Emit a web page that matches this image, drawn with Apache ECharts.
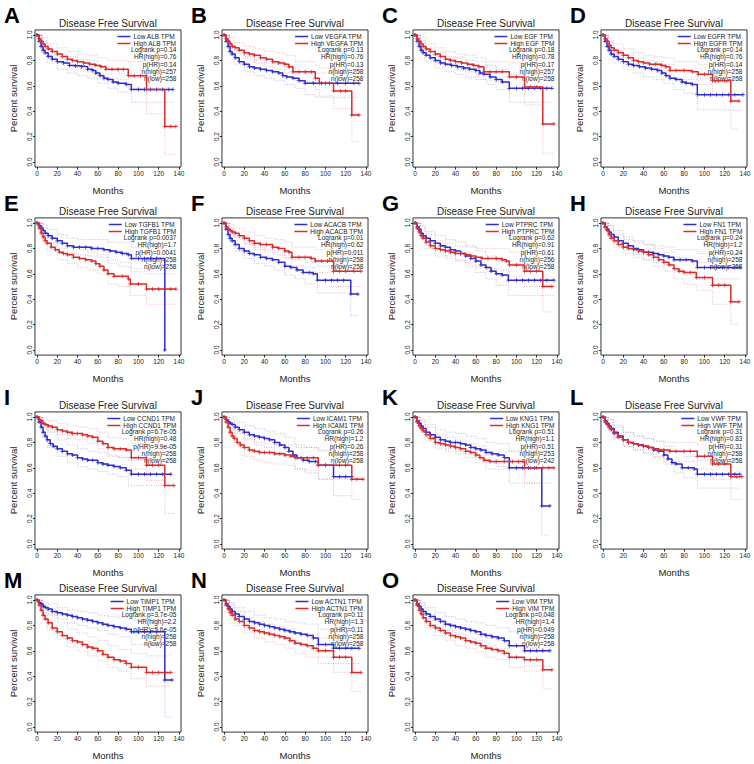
<!DOCTYPE html>
<html>
<head>
<meta charset="utf-8">
<script src="https://cdn.jsdelivr.net/npm/echarts@6/dist/echarts.min.js"></script>
<style>
  html, body { margin: 0; padding: 0; background: #fff; }
  #chart { width: 754px; height: 764px; }
</style>
</head>
<body>
<div id="chart"></div>
<script>
// panel letters, genes and the stats printed in each legend
const letters = ['A', 'B', 'C', 'D', 'E', 'F', 'G', 'H', 'I', 'J', 'K', 'L', 'M', 'N', 'O']
const genes = ['ALB', 'VEGFA', 'EGF', 'EGFR', 'TGFB1', 'ACACB', 'PTPRC', 'FN1', 'CCND1', 'ICAM1', 'KNG1', 'VWF', 'TIMP1', 'ACTN1', 'VIM']
const logrankP = ['0.14', '0.13', '0.18', '0.14', '0.0037', '0.01', '0.62', '0.24', '6.7e-05', '0.26', '0.51', '0.31', '3.7e-05', '0.11', '0.048']
const hrHigh = ['0.76', '0.76', '0.78', '0.76', '1.7', '0.62', '0.91', '1.2', '0.48', '1.2', '1.1', '0.83', '2.2', '1.3', '1.4']
const pHR = ['0.14', '0.13', '0.17', '0.14', '0.0041', '0.011', '0.61', '0.24', '9.9e-05', '0.26', '0.51', '0.31', '5.6e-05', '0.11', '0.049']
const nHigh = ['257', '258', '257', '258', '258', '258', '256', '258', '258', '258', '253', '258', '258', '258', '258']
const nLow = ['258', '258', '258', '258', '258', '258', '258', '258', '258', '258', '242', '258', '258', '258', '258']

const monthTicks = [0, 20, 40, 60, 80, 100, 120, 140]
const survTicks = [0, 0.2, 0.4, 0.6, 0.8, 1.0]

// KM curves: month, survival pairs (flat)
const lowA = [0,1, 2,.95, 4,.91, 6,.88, 8,.86, 11,.83, 15,.81, 20,.79, 26,.78, 32,.76, 38,.755, 44,.75, 50,.73, 55,.72, 58,.70, 62,.68, 66,.66, 70,.65, 75,.63, 80,.62, 88,.61, 93,.57, 100,.57, 106,.57, 112,.57, 118,.57, 124,.57, 130,.57, 134,.57]
const highA = [0,1, 2,.97, 4,.95, 6,.93, 8,.91, 11,.89, 15,.87, 20,.85, 25,.83, 30,.81, 35,.80, 40,.79, 46,.78, 52,.77, 58,.76, 63,.75, 68,.73, 74,.73, 80,.73, 85,.73, 90,.68, 96,.68, 102,.68, 108,.57, 126,.28, 132,.28, 137,.28]
const lowB = [0,1, 2,.95, 4,.91, 6,.87, 8,.85, 11,.82, 15,.79, 20,.77, 25,.75, 30,.74, 36,.73, 42,.72, 48,.71, 54,.70, 58,.68, 62,.67, 68,.66, 74,.64, 80,.62, 88,.62, 96,.62, 104,.62, 112,.62, 120,.62, 128,.62, 133,.62]
const highB = [0,1, 2,.97, 4,.95, 6,.93, 8,.91, 11,.90, 15,.88, 20,.86, 25,.85, 30,.84, 36,.82, 42,.81, 48,.79, 54,.78, 60,.77, 64,.75, 68,.71, 74,.71, 80,.71, 86,.71, 90,.66, 94,.62, 100,.62, 108,.56, 115,.56, 120,.56, 126,.37, 133,.37]
const lowC = [0,1, 2,.95, 4,.91, 6,.88, 8,.86, 11,.84, 15,.82, 20,.80, 25,.78, 30,.77, 36,.76, 42,.75, 48,.74, 54,.73, 60,.72, 64,.70, 68,.69, 74,.67, 80,.65, 86,.63, 93,.58, 100,.58, 106,.58, 112,.58, 118,.58, 124,.58, 130,.58, 135,.58]
const highC = [0,1, 2,.97, 4,.95, 6,.93, 8,.91, 11,.89, 15,.87, 20,.85, 25,.83, 30,.81, 35,.80, 40,.79, 46,.78, 52,.77, 58,.76, 63,.75, 68,.71, 74,.71, 80,.71, 86,.71, 93,.67, 100,.67, 108,.59, 114,.59, 120,.59, 126,.30, 137,.30]
const lowD = [0,1, 2,.95, 4,.91, 6,.88, 8,.85, 11,.83, 15,.81, 20,.79, 25,.77, 30,.76, 36,.75, 42,.74, 48,.73, 54,.72, 58,.70, 62,.68, 66,.66, 72,.65, 78,.63, 82,.62, 88,.61, 93,.53, 100,.53, 106,.53, 112,.53, 118,.53, 124,.53, 130,.53, 138,.53]
const highD = [0,1, 2,.97, 4,.95, 6,.92, 8,.90, 11,.88, 15,.86, 20,.84, 25,.82, 30,.80, 35,.79, 40,.78, 46,.77, 52,.77, 58,.76, 62,.75, 66,.72, 72,.72, 80,.72, 88,.71, 94,.69, 100,.69, 108,.64, 114,.64, 120,.64, 126,.48, 134,.48]
const lowE = [0,1, 2,.98, 4,.96, 6,.94, 8,.92, 11,.90, 15,.88, 20,.86, 25,.84, 30,.82, 36,.81, 42,.81, 48,.81, 54,.80, 60,.80, 66,.79, 72,.78, 78,.77, 84,.76, 90,.75, 93,.72, 100,.72, 106,.72, 112,.72, 118,.72, 126,0]
const highE = [0,1, 2,.96, 4,.92, 6,.89, 8,.86, 10,.84, 14,.81, 18,.79, 22,.77, 26,.76, 30,.75, 36,.73, 42,.72, 48,.71, 54,.70, 58,.68, 62,.66, 66,.63, 70,.60, 76,.58, 84,.58, 90,.56, 92,.52, 100,.52, 108,.48, 114,.48, 120,.48, 126,.48, 132,.48, 137,.48]
const lowF = [0,1, 2,.95, 4,.91, 6,.88, 8,.86, 11,.83, 15,.80, 20,.78, 25,.76, 30,.75, 36,.73, 42,.72, 48,.71, 54,.69, 60,.66, 66,.65, 72,.63, 78,.61, 84,.61, 88,.60, 92,.55, 100,.55, 106,.55, 112,.55, 118,.55, 125,.44, 132,.44]
const highF = [0,1, 2,.97, 4,.95, 6,.94, 8,.93, 11,.92, 15,.90, 20,.88, 25,.86, 30,.84, 36,.83, 42,.83, 48,.81, 54,.80, 60,.78, 64,.77, 67,.73, 74,.73, 80,.73, 86,.72, 90,.70, 96,.70, 102,.70, 108,.62, 114,.62, 120,.62, 128,.62, 135,.62]
const lowG = [0,1, 2,.97, 4,.95, 6,.92, 8,.90, 11,.88, 15,.86, 20,.84, 25,.82, 30,.81, 35,.79, 40,.78, 45,.76, 50,.74, 55,.72, 60,.70, 65,.67, 70,.65, 75,.62, 80,.60, 86,.59, 92,.55, 100,.55, 106,.55, 112,.55, 118,.55, 124,.55, 130,.55, 137,.55]
const highG = [0,1, 2,.96, 4,.93, 6,.90, 8,.88, 11,.85, 15,.82, 20,.80, 25,.79, 30,.78, 35,.77, 40,.76, 45,.76, 50,.75, 55,.74, 60,.73, 66,.72, 72,.72, 80,.72, 86,.71, 90,.70, 93,.67, 100,.67, 108,.62, 114,.62, 120,.62, 126,.50, 135,.50]
const lowH = [0,1, 2,.97, 4,.95, 6,.93, 8,.91, 11,.89, 15,.86, 20,.84, 25,.82, 30,.80, 35,.79, 40,.77, 45,.77, 50,.76, 55,.75, 60,.74, 65,.73, 70,.71, 76,.71, 82,.71, 88,.70, 93,.65, 100,.65, 106,.65, 112,.65, 118,.65, 124,.65, 130,.65, 135,.65]
const highH = [0,1, 2,.97, 4,.94, 6,.91, 8,.88, 11,.86, 15,.83, 20,.81, 25,.80, 30,.79, 35,.78, 40,.77, 45,.75, 50,.73, 55,.71, 60,.69, 65,.67, 70,.64, 75,.62, 80,.61, 86,.61, 92,.57, 100,.57, 108,.51, 114,.51, 120,.51, 126,.38, 134,.38]
const lowI = [0,1, 2,.96, 4,.92, 6,.88, 8,.85, 10,.82, 13,.79, 16,.77, 20,.75, 25,.73, 30,.71, 35,.70, 40,.68, 45,.67, 50,.66, 55,.66, 60,.64, 65,.63, 70,.62, 76,.61, 82,.60, 88,.58, 93,.55, 100,.55, 106,.55, 112,.55, 118,.55, 124,.55, 132,.55]
const highI = [0,1, 2,.98, 4,.97, 6,.95, 8,.94, 11,.93, 15,.92, 20,.90, 25,.89, 30,.88, 35,.87, 40,.87, 45,.86, 50,.85, 55,.84, 60,.81, 65,.79, 70,.76, 76,.75, 82,.75, 88,.74, 93,.68, 100,.68, 108,.62, 114,.62, 120,.62, 126,.46, 135,.46]
const lowJ = [0,1, 2,.98, 4,.96, 6,.95, 8,.94, 11,.92, 15,.90, 20,.88, 25,.86, 30,.85, 35,.84, 40,.83, 45,.82, 50,.80, 55,.78, 60,.76, 64,.73, 68,.70, 72,.68, 78,.66, 84,.65, 90,.65, 93,.62, 100,.62, 108,.53, 114,.53, 120,.53, 126,.53]
const highJ = [0,1, 2,.96, 4,.92, 6,.88, 8,.85, 10,.83, 13,.80, 16,.78, 20,.76, 25,.74, 30,.73, 35,.72, 40,.72, 45,.72, 50,.71, 55,.71, 60,.70, 66,.69, 70,.68, 76,.68, 82,.68, 88,.68, 93,.62, 100,.62, 108,.62, 114,.62, 120,.62, 126,.51, 131,.51, 137,.51]
const lowK = [0,1, 2,.97, 4,.95, 6,.93, 8,.91, 11,.88, 15,.86, 20,.84, 25,.82, 30,.81, 35,.80, 40,.80, 45,.79, 50,.78, 55,.76, 60,.75, 65,.74, 70,.72, 76,.71, 82,.70, 88,.68, 93,.60, 100,.60, 106,.60, 112,.60, 118,.60, 125,.30, 133,.30]
const highK = [0,1, 2,.96, 4,.93, 6,.91, 8,.89, 11,.86, 15,.83, 20,.80, 25,.79, 30,.78, 35,.77, 40,.76, 45,.75, 50,.73, 55,.72, 60,.70, 64,.68, 68,.66, 74,.65, 80,.65, 88,.65, 96,.65, 102,.65, 108,.60, 114,.60, 120,.60, 126,.60, 132,.60, 137,.60]
const lowL = [0,1, 2,.97, 4,.95, 6,.93, 8,.91, 11,.88, 15,.85, 20,.82, 25,.80, 30,.79, 35,.78, 40,.77, 45,.76, 50,.74, 55,.73, 60,.70, 64,.67, 68,.64, 72,.63, 78,.60, 84,.60, 90,.59, 93,.55, 100,.55, 106,.55, 112,.55, 118,.55, 124,.55, 130,.55, 135,.55]
const highL = [0,1, 2,.96, 4,.94, 6,.92, 8,.90, 11,.87, 15,.84, 20,.82, 25,.80, 30,.79, 35,.78, 40,.77, 45,.76, 50,.75, 55,.74, 60,.74, 66,.73, 72,.73, 80,.73, 86,.73, 93,.69, 100,.69, 108,.63, 114,.63, 120,.63, 126,.53, 132,.53, 137,.53]
const lowM = [0,1, 2,.98, 4,.97, 6,.95, 8,.94, 11,.93, 15,.91, 20,.90, 25,.89, 30,.88, 35,.87, 40,.86, 45,.85, 50,.84, 55,.83, 60,.82, 65,.81, 70,.80, 76,.79, 82,.78, 88,.77, 93,.75, 100,.75, 106,.75, 112,.75, 118,.75, 126,.37, 133,.37]
const highM = [0,1, 2,.96, 4,.92, 6,.88, 8,.85, 11,.82, 15,.78, 20,.75, 25,.72, 30,.70, 35,.68, 40,.67, 45,.65, 50,.63, 55,.62, 60,.60, 65,.57, 70,.55, 76,.53, 82,.52, 88,.50, 93,.47, 100,.47, 108,.43, 114,.43, 120,.43, 126,.43, 132,.43]
const lowN = [0,1, 2,.97, 4,.95, 6,.93, 8,.91, 11,.89, 15,.87, 20,.85, 25,.83, 30,.82, 35,.81, 40,.80, 45,.79, 50,.78, 55,.77, 60,.76, 65,.75, 70,.74, 76,.73, 82,.72, 88,.70, 93,.65, 100,.65, 108,.62, 114,.62, 120,.62, 126,.62, 133,.62]
const highN = [0,1, 2,.96, 4,.93, 6,.90, 8,.88, 11,.85, 15,.83, 20,.80, 25,.78, 30,.76, 35,.75, 40,.74, 45,.73, 50,.72, 55,.71, 60,.70, 65,.68, 70,.66, 76,.65, 82,.64, 88,.62, 93,.60, 100,.60, 108,.55, 114,.55, 120,.55, 126,.43, 135,.43]
const lowO = [0,1, 2,.97, 4,.95, 6,.93, 8,.91, 11,.89, 15,.87, 20,.85, 25,.83, 30,.81, 35,.80, 40,.79, 45,.78, 50,.77, 55,.76, 60,.75, 65,.73, 70,.72, 76,.71, 82,.70, 88,.68, 93,.64, 100,.64, 108,.60, 114,.60, 120,.60, 126,.60, 133,.60]
const highO = [0,1, 2,.96, 4,.92, 6,.89, 8,.86, 11,.83, 15,.80, 20,.78, 25,.76, 30,.74, 35,.72, 40,.71, 45,.70, 50,.68, 55,.67, 60,.66, 65,.64, 70,.62, 76,.61, 82,.60, 88,.58, 93,.55, 100,.55, 108,.53, 114,.53, 120,.53, 126,.45, 135,.45]

// 95% bands: month, lower, upper triplets (flat)
const ciLowA = [0,1,1, 5,.85,.95, 10,.78,.89, 20,.73,.85, 30,.70,.83, 40,.68,.81, 50,.66,.80, 60,.62,.76, 70,.58,.72, 80,.55,.70, 93,.47,.67, 134,.47,.67]
const ciHighA = [0,1,1, 5,.89,.98, 10,.84,.93, 20,.79,.90, 30,.76,.87, 40,.73,.85, 50,.71,.84, 60,.69,.82, 70,.66,.80, 80,.65,.80, 90,.58,.79, 108,.38,.78, 126,.06,.78, 137,.06,.78]
const ciLowB = [0,1,1, 5,.84,.94, 10,.77,.88, 20,.71,.83, 30,.68,.80, 40,.66,.78, 50,.64,.77, 60,.61,.74, 70,.58,.71, 80,.53,.70, 90,.51,.70, 133,.51,.70]
const ciHighB = [0,1,1, 5,.90,.98, 10,.85,.94, 20,.81,.91, 30,.78,.89, 40,.75,.87, 50,.73,.86, 60,.70,.84, 70,.64,.79, 80,.63,.79, 90,.57,.76, 94,.52,.74, 108,.42,.72, 126,.16,.72, 133,.16,.72]
const ciLowC = [0,1,1, 5,.86,.95, 10,.79,.89, 20,.74,.86, 30,.71,.83, 40,.69,.82, 50,.67,.80, 60,.65,.79, 70,.61,.76, 80,.57,.73, 93,.47,.69, 135,.47,.69]
const ciHighC = [0,1,1, 5,.90,.98, 10,.84,.93, 20,.79,.90, 30,.76,.87, 40,.73,.85, 50,.71,.84, 60,.69,.82, 70,.64,.79, 80,.63,.79, 93,.58,.78, 108,.45,.76, 126,.07,.76, 137,.07,.76]
const ciLowD = [0,1,1, 5,.85,.95, 10,.78,.88, 20,.73,.85, 30,.70,.82, 40,.67,.80, 50,.65,.79, 60,.62,.77, 70,.57,.73, 80,.54,.71, 93,.41,.66, 138,.41,.66]
const ciHighD = [0,1,1, 5,.90,.98, 10,.83,.93, 20,.79,.89, 30,.75,.86, 40,.73,.84, 50,.71,.83, 60,.69,.82, 70,.66,.79, 80,.65,.79, 94,.61,.77, 108,.53,.76, 126,.26,.76, 134,.26,.76]
const ciLowE = [0,1,1, 5,.90,.99, 10,.85,.95, 20,.80,.91, 30,.76,.88, 40,.75,.87, 50,.74,.87, 60,.73,.87, 70,.71,.85, 80,.69,.85, 93,.64,.81, 126,0,.81]
const ciHighE = [0,1,1, 5,.86,.97, 10,.78,.90, 20,.71,.84, 30,.68,.82, 40,.65,.79, 50,.63,.77, 60,.60,.75, 70,.52,.68, 80,.50,.66, 92,.43,.62, 108,.36,.60, 137,.36,.60]
const ciLowF = [0,1,1, 5,.85,.95, 10,.78,.89, 20,.72,.84, 30,.68,.81, 40,.66,.79, 50,.63,.77, 60,.59,.73, 70,.56,.71, 80,.52,.69, 92,.45,.66, 125,.27,.64, 132,.27,.64]
const ciHighF = [0,1,1, 5,.91,.99, 10,.88,.96, 20,.83,.93, 30,.79,.90, 40,.77,.88, 50,.75,.87, 60,.72,.85, 67,.66,.81, 80,.65,.81, 90,.61,.79, 108,.50,.77, 135,.50,.77]
const ciLowG = [0,1,1, 5,.89,.98, 10,.83,.93, 20,.78,.90, 30,.74,.87, 40,.71,.85, 50,.66,.82, 60,.61,.78, 70,.56,.74, 80,.51,.70, 92,.43,.68, 137,.43,.68]
const ciHighG = [0,1,1, 5,.88,.97, 10,.80,.91, 20,.74,.86, 30,.72,.84, 40,.70,.82, 50,.69,.81, 60,.66,.80, 70,.64,.80, 80,.63,.80, 93,.58,.77, 108,.50,.76, 126,.30,.74, 135,.30,.74]
const ciLowH = [0,1,1, 5,.90,.98, 10,.85,.94, 20,.79,.89, 30,.75,.86, 40,.71,.83, 50,.69,.82, 60,.67,.81, 70,.63,.79, 80,.62,.79, 93,.56,.76, 135,.56,.76]
const ciHighH = [0,1,1, 5,.89,.98, 10,.81,.91, 20,.76,.87, 30,.73,.85, 40,.71,.83, 50,.66,.80, 60,.62,.77, 70,.56,.73, 80,.52,.71, 92,.47,.69, 108,.36,.66, 126,.20,.64, 134,.20,.64]
const ciLowI = [0,1,1, 5,.84,.95, 10,.76,.88, 20,.69,.82, 30,.64,.78, 40,.61,.75, 50,.59,.73, 60,.57,.72, 70,.55,.70, 80,.53,.68, 90,.46,.66, 132,.46,.66]
const ciHighI = [0,1,1, 5,.93,.99, 10,.89,.97, 20,.86,.95, 30,.83,.93, 40,.82,.92, 50,.79,.91, 60,.75,.88, 70,.69,.84, 80,.68,.83, 93,.59,.79, 108,.50,.77, 126,.24,.76, 135,.24,.76]
const ciLowJ = [0,1,1, 5,.91,.99, 10,.87,.96, 20,.82,.93, 30,.78,.91, 40,.76,.89, 50,.72,.87, 60,.68,.84, 70,.59,.78, 80,.56,.76, 93,.51,.74, 108,.38,.70, 126,.38,.70]
const ciHighJ = [0,1,1, 5,.85,.96, 10,.77,.89, 20,.69,.83, 30,.66,.80, 40,.64,.79, 50,.63,.78, 60,.62,.78, 70,.59,.76, 80,.58,.76, 93,.51,.73, 126,.35,.73, 137,.35,.73]
const ciLowK = [0,1,1, 5,.89,.98, 10,.84,.94, 20,.78,.90, 30,.75,.88, 40,.73,.87, 50,.71,.85, 60,.68,.83, 70,.64,.80, 80,.61,.79, 93,.48,.73, 125,.07,.73, 133,.07,.73]
const ciHighK = [0,1,1, 5,.88,.97, 10,.81,.92, 20,.75,.86, 30,.73,.84, 40,.71,.82, 50,.68,.79, 60,.64,.77, 70,.59,.73, 80,.59,.73, 108,.48,.73, 137,.48,.73]
const ciLowL = [0,1,1, 5,.90,.98, 10,.84,.93, 20,.77,.88, 30,.74,.85, 40,.71,.83, 50,.68,.81, 60,.63,.77, 70,.56,.72, 80,.52,.69, 93,.44,.66, 135,.44,.66]
const ciHighL = [0,1,1, 5,.89,.98, 10,.83,.92, 20,.77,.88, 30,.74,.85, 40,.72,.83, 50,.69,.81, 60,.67,.80, 70,.65,.80, 80,.65,.80, 93,.59,.78, 108,.51,.76, 126,.35,.75, 137,.35,.75]
const ciLowM = [0,1,1, 5,.93,.99, 10,.89,.97, 20,.85,.94, 30,.82,.92, 40,.80,.91, 50,.78,.90, 60,.76,.88, 70,.73,.87, 80,.71,.86, 93,.65,.84, 126,.08,.82, 133,.08,.82]
const ciHighM = [0,1,1, 5,.85,.96, 10,.76,.88, 20,.69,.82, 30,.63,.77, 40,.60,.74, 50,.56,.71, 60,.52,.68, 70,.47,.64, 80,.44,.61, 93,.38,.58, 108,.32,.56, 132,.32,.56]
const ciLowN = [0,1,1, 5,.89,.98, 10,.84,.94, 20,.80,.91, 30,.77,.88, 40,.74,.86, 50,.72,.85, 60,.69,.83, 70,.66,.82, 80,.64,.81, 93,.55,.77, 108,.50,.75, 133,.50,.75]
const ciHighN = [0,1,1, 5,.88,.97, 10,.80,.91, 20,.74,.86, 30,.70,.83, 40,.67,.81, 50,.65,.79, 60,.62,.77, 70,.58,.74, 80,.55,.73, 93,.50,.70, 108,.43,.68, 126,.28,.66, 135,.28,.66]
const ciLowO = [0,1,1, 5,.89,.98, 10,.84,.94, 20,.79,.90, 30,.76,.87, 40,.73,.85, 50,.70,.83, 60,.68,.82, 70,.64,.80, 80,.62,.78, 93,.54,.75, 108,.48,.73, 133,.48,.73]
const ciHighO = [0,1,1, 5,.88,.97, 10,.78,.89, 20,.72,.84, 30,.68,.81, 40,.64,.78, 50,.62,.75, 60,.59,.73, 70,.55,.70, 80,.53,.68, 93,.47,.64, 108,.44,.62, 126,.30,.61, 135,.30,.61]

const lowCurves = [lowA, lowB, lowC, lowD, lowE, lowF, lowG, lowH, lowI, lowJ, lowK, lowL, lowM, lowN, lowO]
const highCurves = [highA, highB, highC, highD, highE, highF, highG, highH, highI, highJ, highK, highL, highM, highN, highO]
const lowBands = [ciLowA, ciLowB, ciLowC, ciLowD, ciLowE, ciLowF, ciLowG, ciLowH, ciLowI, ciLowJ, ciLowK, ciLowL, ciLowM, ciLowN, ciLowO]
const highBands = [ciHighA, ciHighB, ciHighC, ciHighD, ciHighE, ciHighF, ciHighG, ciHighH, ciHighI, ciHighJ, ciHighK, ciHighL, ciHighM, ciHighN, ciHighO]

// layout: pixel of month 0 per column, pixel of survival 1.0 per row
const colX = [37, 224, 415, 603]
const rowY = [35, 223, 417, 600]
const PX_MONTH = 142 / 140
const PX_UNIT = 127

const BLUE = '#2e2ed2'
const RED = '#de2a2a'
const BLUE_CI = 'rgba(90,90,220,0.5)'
const RED_CI = 'rgba(225,80,80,0.5)'
const FONT = 'Liberation Sans, Arial, sans-serif'
const PLUS = 'path://M4,0h2v4h4v2h-4v4h-2v-4h-4v-2h4z'

function toPairs(flat) {
  let out = []
  for (let i = 0; i < flat.length; i += 2) out.push([flat[i], flat[i + 1]])
  return out
}
function bandSide(flat, k) {
  let out = []
  for (let i = 0; i < flat.length; i += 3) out.push([flat[i], flat[i + k]])
  return out
}

let grids = [], xAxes = [], yAxes = [], series = [], titles = [], legends = [], graphics = []

for (let i = 0; i < letters.length; i++) {
  let r = Math.floor(i / 4)
  let c = i % 4
  let x0 = colX[c]
  let y1 = rowY[r]
  let lowName = 'Low ' + genes[i] + ' TPM'
  let highName = 'High ' + genes[i] + ' TPM'

  grids.push({
    left: x0 - 2 * PX_MONTH,
    top: y1 - 0.04 * PX_UNIT,
    width: 144 * PX_MONTH,
    height: 1.08 * PX_UNIT,
    show: true,
    borderColor: '#000',
    borderWidth: 0.8,
    backgroundColor: 'transparent'
  })
  xAxes.push({
    gridIndex: i,
    type: 'value',
    min: -2,
    max: 142,
    axisLine: { show: false, onZero: false },
    splitLine: { show: false },
    axisTick: { customValues: monthTicks, length: 2.5, lineStyle: { color: '#000', width: 0.8 } },
    axisLabel: { customValues: monthTicks, fontSize: 6.5, margin: 3, color: '#222', fontFamily: FONT },
    name: 'Months',
    nameLocation: 'middle',
    nameGap: 18,
    nameTextStyle: { fontSize: 9.5, color: '#222', fontFamily: FONT }
  })
  yAxes.push({
    gridIndex: i,
    type: 'value',
    min: -0.04,
    max: 1.04,
    axisLine: { show: false, onZero: false },
    splitLine: { show: false },
    axisTick: { customValues: survTicks, length: 2, lineStyle: { color: '#000', width: 0.8 } },
    axisLabel: {
      customValues: survTicks,
      rotate: 90,
      fontSize: 6.5,
      margin: 2,
      color: '#222',
      fontFamily: FONT,
      formatter: v => v.toFixed(1)
    },
    name: 'Percent survival',
    nameLocation: 'middle',
    nameGap: 16,
    nameTextStyle: { fontSize: 9.5, color: '#222', fontFamily: FONT }
  })

  // dotted confidence bands
  let bands = [[lowBands[i], BLUE_CI], [highBands[i], RED_CI]]
  bands.forEach(([band, color]) => {
    [1, 2].forEach(k => {
      series.push({
        type: 'line',
        xAxisIndex: i,
        yAxisIndex: i,
        step: 'end',
        showSymbol: false,
        silent: true,
        z: 1,
        lineStyle: { color: color, width: 0.8, type: [1, 1.5] },
        data: bandSide(band, k)
      })
    })
  })

  series.push({
    name: lowName,
    type: 'line',
    xAxisIndex: i,
    yAxisIndex: i,
    step: 'end',
    symbol: PLUS,
    symbolSize: 4,
    z: 3,
    color: BLUE,
    lineStyle: { color: BLUE, width: 1.5 },
    itemStyle: { color: BLUE },
    data: toPairs(lowCurves[i])
  })
  series.push({
    name: highName,
    type: 'line',
    xAxisIndex: i,
    yAxisIndex: i,
    step: 'end',
    symbol: PLUS,
    symbolSize: 4,
    z: 4,
    color: RED,
    lineStyle: { color: RED, width: 1.5 },
    itemStyle: { color: RED },
    data: toPairs(highCurves[i])
  })

  titles.push({
    text: 'Disease Free Survival',
    left: x0 + 70 * PX_MONTH,
    textAlign: 'center',
    top: y1 - 16.5,
    padding: 0,
    textStyle: { fontSize: 10, fontWeight: 'normal', color: '#222', fontFamily: FONT }
  })
  titles.push({
    text: letters[i],
    left: x0 - 33,
    top: y1 - 31,
    padding: 0,
    textStyle: { fontSize: 22, fontWeight: 'bold', color: '#000', fontFamily: FONT }
  })

  legends.push({
    data: [lowName, highName],
    orient: 'vertical',
    right: 754 - (x0 + 137.5 * PX_MONTH),
    top: y1 - 2,
    padding: 0,
    itemGap: 0,
    itemWidth: 13,
    itemHeight: 1.5,
    icon: 'rect',
    selectedMode: false,
    textStyle: { fontSize: 6.5, lineHeight: 6.8, color: '#222', fontFamily: FONT, padding: [0, 0, 0, -2] }
  })

  graphics.push({
    type: 'text',
    x: x0 + 137.5 * PX_MONTH,
    y: y1 + 11,
    silent: true,
    style: {
      text: ['Logrank p=' + logrankP[i], 'HR(high)=' + hrHigh[i], 'p(HR)=' + pHR[i], 'n(high)=' + nHigh[i], 'n(low)=' + nLow[i]].join('\n'),
      align: 'right',
      verticalAlign: 'top',
      fontSize: 6.5,
      lineHeight: 7.2,
      fontFamily: FONT,
      fill: '#222'
    }
  })
}

const chart = echarts.init(document.getElementById('chart'), null, { renderer: 'svg' })
chart.setOption({
  animation: false,
  backgroundColor: '#fff',
  title: titles,
  legend: legends,
  grid: grids,
  xAxis: xAxes,
  yAxis: yAxes,
  series: series,
  graphic: graphics
})
</script>
</body>
</html>
